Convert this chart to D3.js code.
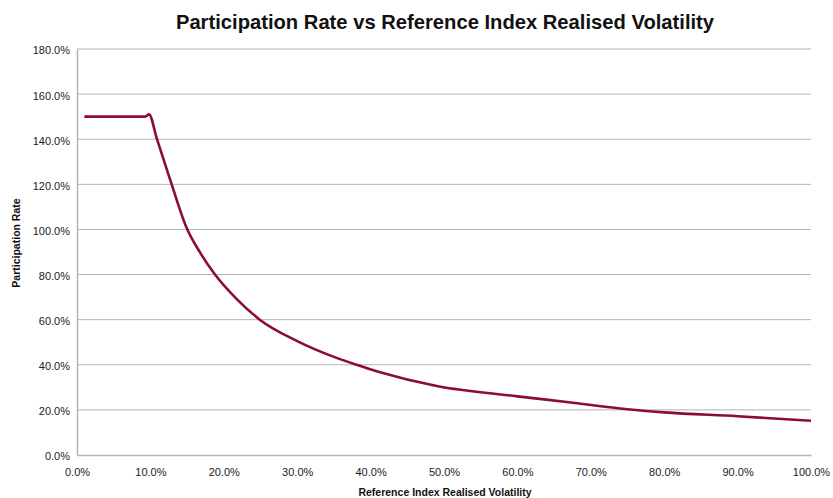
<!DOCTYPE html>
<html>
<head>
<meta charset="utf-8">
<script src="https://cdn.jsdelivr.net/npm/d3@7"></script>
<style>
  body { margin: 0; background: #fff; }
  text { font-family: "Liberation Sans", Arial, sans-serif; }
</style>
</head>
<body>
<svg id="chart"></svg>
<script>
const width = 833;
const height = 498;

const volatility = [1, 5, 9.3, 9.8, 10.9, 12, 12.9, 14.9, 16.8, 18.8, 21.8, 24.9, 30, 35, 38.1, 41.3, 49, 60, 67, 74, 80, 90, 100];
const participation = [150, 150, 150, 151, 140, 129, 120, 101, 89.6, 80, 69, 60, 50.5, 43.5, 40, 36.7, 30.6, 26, 23.4, 20.6, 18.9, 17.2, 15.2];

const xTicks = [0, 10, 20, 30, 40, 50, 60, 70, 80, 90, 100];
const yTicks = [0, 20, 40, 60, 80, 100, 120, 140, 160, 180];

const margin = {top: 49, right: 22, bottom: 43, left: 77};

const svg = d3.select('#chart')
    .attr('width', width)
    .attr('height', height);

const x = d3.scaleLinear().domain([0, 100]).range([margin.left, width - margin.right]);
const y = d3.scaleLinear().domain([0, 180]).range([height - margin.bottom, margin.top]);

// gridlines
svg.append('g')
    .selectAll('line')
    .data(yTicks.filter(d => d > 0))
    .enter().append('line')
    .attr('x1', x(0))
    .attr('x2', x(100))
    .attr('y1', d => y(d))
    .attr('y2', d => y(d))
    .attr('stroke', '#b4b4b8')
    .attr('stroke-width', 1);

// axes
const yAxis = svg.append('g')
    .attr('transform', `translate(${x(0)},0)`)
    .call(d3.axisLeft(y).tickValues(yTicks).tickSize(0).tickPadding(7).tickFormat(d => d.toFixed(1) + '%'));
const xAxis = svg.append('g')
    .attr('transform', `translate(0,${y(0)})`)
    .call(d3.axisBottom(x).tickValues(xTicks).tickSize(0).tickPadding(13).tickFormat(d => d.toFixed(1) + '%'));

for (const ax of [xAxis, yAxis]) {
    ax.select('.domain').attr('stroke', '#b4b4b8').attr('stroke-width', 1.5);
    ax.selectAll('text')
        .attr('font-size', 11)
        .attr('fill', '#222')
        .attr('font-family', '"Liberation Sans", Arial, sans-serif');
}
yAxis.selectAll('text').attr('dy', '0.45em');

// line
const pts = volatility.map((v, i) => [v, participation[i]]);
svg.append('path')
    .datum(pts)
    .attr('fill', 'none')
    .attr('stroke', '#8a0b3c')
    .attr('stroke-width', 2.6)
    .attr('stroke-linejoin', 'round')
    .attr('d', d3.line()
        .x(d => x(d[0]))
        .y(d => y(d[1]))
        .curve(d3.curveMonotoneX));

// titles
svg.append('text')
    .attr('x', 445)
    .attr('y', 29)
    .attr('text-anchor', 'middle')
    .attr('font-size', 20.2)
    .attr('font-weight', 'bold')
    .attr('fill', '#111')
    .text('Participation Rate vs Reference Index Realised Volatility');

svg.append('text')
    .attr('x', 445)
    .attr('y', 496)
    .attr('text-anchor', 'middle')
    .attr('font-size', 10.5)
    .attr('font-weight', 'bold')
    .attr('fill', '#111')
    .text('Reference Index Realised Volatility');

svg.append('text')
    .attr('transform', `translate(20,${243}) rotate(-90)`)
    .attr('text-anchor', 'middle')
    .attr('font-size', 10.5)
    .attr('font-weight', 'bold')
    .attr('fill', '#111')
    .text('Participation Rate');
</script>
</body>
</html>
